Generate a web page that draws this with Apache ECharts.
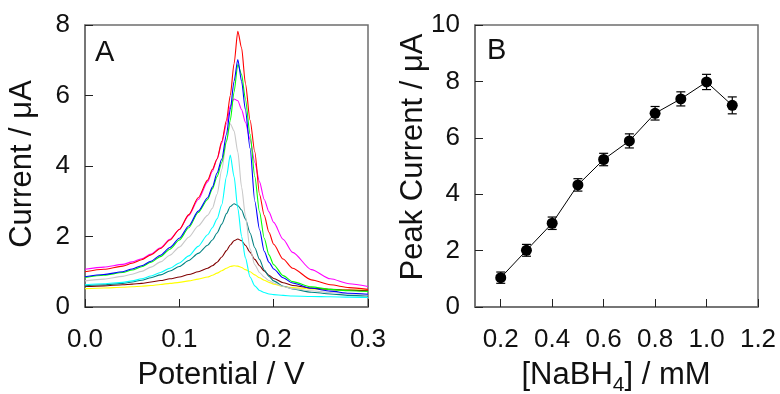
<!DOCTYPE html>
<html>
<head>
<meta charset="utf-8">
<script src="https://cdn.jsdelivr.net/npm/echarts@6/dist/echarts.min.js"></script>
<style>html,body{margin:0;padding:0;background:#fff}#c{width:780px;height:394px}</style>
</head>
<body>
<div id="c"></div>
<script>
// ---- Panel A: DPV curves ----
var potential = [0, 0.02, 0.04, 0.05, 0.06, 0.07, 0.08, 0.09, 0.10, 0.11, 0.12, 0.13, 0.135, 0.14, 0.145, 0.15, 0.154, 0.158, 0.162, 0.166, 0.17, 0.175, 0.18, 0.185, 0.19, 0.195, 0.2, 0.21, 0.22, 0.24, 0.26, 0.28, 0.3];
var curveYellow  = [0.52, 0.54, 0.56, 0.575, 0.59, 0.61, 0.64, 0.67, 0.70, 0.74, 0.79, 0.85, 0.90, 0.96, 1.03, 1.10, 1.15, 1.17, 1.16, 1.12, 1.06, 1.00, 0.91, 0.83, 0.76, 0.70, 0.65, 0.58, 0.55, 0.51, 0.49, 0.48, 0.48];
var curveBrown   = [0.58, 0.60, 0.63, 0.65, 0.67, 0.71, 0.75, 0.80, 0.85, 0.92, 1.00, 1.10, 1.17, 1.27, 1.42, 1.60, 1.76, 1.88, 1.93, 1.88, 1.75, 1.55, 1.35, 1.17, 1.02, 0.90, 0.81, 0.69, 0.61, 0.54, 0.50, 0.48, 0.46];
var curveTeal    = [0.60, 0.63, 0.67, 0.71, 0.76, 0.83, 0.91, 1.02, 1.15, 1.32, 1.52, 1.75, 1.90, 2.10, 2.35, 2.65, 2.85, 2.93, 2.88, 2.75, 2.50, 2.10, 1.68, 1.35, 1.05, 0.87, 0.74, 0.59, 0.51, 0.42, 0.37, 0.33, 0.31];
var curveCyan    = [0.63, 0.66, 0.70, 0.74, 0.80, 0.88, 0.98, 1.10, 1.25, 1.45, 1.72, 2.05, 2.25, 2.50, 2.90, 3.70, 4.31, 3.70, 2.80, 2.00, 1.40, 0.85, 0.60, 0.47, 0.41, 0.37, 0.35, 0.33, 0.31, 0.30, 0.29, 0.28, 0.27];
var curveGray    = [0.74, 0.79, 0.87, 0.93, 1.01, 1.13, 1.28, 1.47, 1.70, 1.98, 2.30, 2.60, 2.80, 3.20, 3.90, 4.70, 5.20, 5.00, 4.40, 3.40, 2.60, 1.65, 1.20, 0.98, 0.85, 0.75, 0.68, 0.58, 0.52, 0.46, 0.41, 0.37, 0.34];
var curveMagenta = [1.07, 1.13, 1.21, 1.28, 1.37, 1.50, 1.68, 1.92, 2.20, 2.60, 3.05, 3.55, 3.85, 4.20, 4.65, 5.20, 5.70, 5.90, 5.85, 5.60, 5.25, 4.75, 4.10, 3.55, 3.05, 2.70, 2.40, 1.92, 1.55, 1.06, 0.80, 0.66, 0.58];
var curveGreen   = [0.84, 0.90, 0.98, 1.05, 1.14, 1.27, 1.43, 1.64, 1.90, 2.25, 2.68, 3.05, 3.35, 3.70, 4.10, 4.70, 5.30, 6.10, 6.88, 6.60, 5.90, 4.90, 3.70, 2.70, 1.95, 1.48, 1.20, 0.89, 0.72, 0.57, 0.50, 0.46, 0.44];
var curveBlue    = [0.86, 0.92, 1.00, 1.08, 1.17, 1.30, 1.47, 1.69, 1.95, 2.30, 2.72, 3.10, 3.40, 3.80, 4.20, 4.90, 5.60, 6.40, 7.02, 6.40, 5.60, 4.50, 3.00, 2.20, 1.58, 1.27, 1.08, 0.83, 0.68, 0.53, 0.45, 0.39, 0.36];
var curveRed     = [1.00, 1.07, 1.16, 1.24, 1.34, 1.48, 1.66, 1.90, 2.20, 2.62, 3.10, 3.60, 3.90, 4.20, 4.70, 5.30, 6.00, 6.90, 7.82, 7.35, 6.35, 5.30, 4.40, 3.20, 2.60, 2.12, 1.78, 1.36, 1.10, 0.77, 0.63, 0.55, 0.50];
var potentialTicks = [0, 0.1, 0.2, 0.3];
var currentTicks = [0, 2, 4, 6, 8];

// ---- Panel B: peak current vs concentration ----
var nabh4 = [0.2, 0.3, 0.4, 0.5, 0.6, 0.7, 0.8, 0.9, 1.0, 1.1];
var peakCurrent = [1.04, 2.01, 2.97, 4.33, 5.23, 5.89, 6.87, 7.38, 7.98, 7.15];
var peakError = [0.20, 0.21, 0.22, 0.22, 0.22, 0.25, 0.24, 0.25, 0.27, 0.30];
var nabh4Ticks = [0.2, 0.4, 0.6, 0.8, 1.0, 1.2];
var peakTicks = [0, 2, 4, 6, 8, 10];

var FONT = '"Liberation Sans", Arial, Helvetica, sans-serif';
var FRAME = '#6e6e6e';
var TICK_FS = 26, TITLE_FS = 31;

function pairs(xs, ys) { return xs.map(function (x, i) { return [x, ys[i]]; }); }

var curves = [
  ['yellow', curveYellow, '#ffff00'],
  ['brown', curveBrown, '#800000'],
  ['teal', curveTeal, '#008080'],
  ['cyan', curveCyan, '#00ffff'],
  ['gray', curveGray, '#c8c8c8'],
  ['magenta', curveMagenta, '#ff00ff'],
  ['green', curveGreen, '#00ff00'],
  ['blue', curveBlue, '#0000ff'],
  ['red', curveRed, '#ff0000']
];

var series = curves.map(function (c) {
  return {
    name: c[0], type: 'line', xAxisIndex: 0, yAxisIndex: 0,
    data: pairs(potential, c[1]), showSymbol: false, symbol: 'none',
    smooth: 0.25, smoothMonotone: 'x',
    lineStyle: { color: c[2], width: 1.1 }, silent: true
  };
});

series.push({
  type: 'line', xAxisIndex: 1, yAxisIndex: 1,
  data: pairs(nabh4, peakCurrent),
  symbol: 'circle', symbolSize: 11,
  itemStyle: { color: '#000' },
  lineStyle: { color: '#000', width: 1 }, silent: true, z: 3
});
series.push({
  type: 'custom', xAxisIndex: 1, yAxisIndex: 1, silent: true, z: 2,
  data: nabh4.map(function (x, i) { return [x, peakCurrent[i], peakError[i]]; }),
  renderItem: function (params, api) {
    var x = api.value(0), y = api.value(1), e = api.value(2);
    var top = api.coord([x, y + e]), bot = api.coord([x, y - e]);
    var w = 4.5;
    var st = { stroke: '#000', lineWidth: 1.2 };
    return { type: 'group', children: [
      { type: 'line', shape: { x1: top[0], y1: top[1], x2: bot[0], y2: bot[1] }, style: st },
      { type: 'line', shape: { x1: top[0] - w, y1: top[1], x2: top[0] + w, y2: top[1] }, style: st },
      { type: 'line', shape: { x1: bot[0] - w, y1: bot[1], x2: bot[0] + w, y2: bot[1] }, style: st }
    ]};
  }
});

var tickStyle = { show: true, inside: true, length: 8, lineStyle: { color: '#222', width: 1 } };
function fmt1(v) { return v.toFixed(1); }

function axisBase(extra) {
  return Object.assign({
    type: 'value',
    axisLine: { show: true, lineStyle: { color: FRAME, width: 1.5 } },
    axisTick: tickStyle,
    splitLine: { show: false }
  }, extra);
}

var measureCtx = document.createElement('canvas').getContext('2d');
function textWidth(t, size) { measureCtx.font = size + 'px ' + FONT; return measureCtx.measureText(t).width; }
var part1 = '[NaBH', part2 = '4', part3 = '] / mM';
var w1 = textWidth(part1, TITLE_FS), w2 = textWidth(part2, 21), w3 = textWidth(part3, TITLE_FS);
var startB = 616 - (w1 + w2 + w3) / 2;

function txt(x, y, s, size, extra) {
  return Object.assign({
    type: 'text', x: x, y: y,
    style: { text: s, fill: '#111', font: size + 'px ' + FONT, textAlign: 'center', textVerticalAlign: 'middle' }
  }, extra || {});
}

var option = {
  animation: false,
  backgroundColor: '#fff',
  grid: [
    { left: 85, top: 25, width: 283, height: 282, show: true, borderColor: FRAME, borderWidth: 1.5, backgroundColor: 'transparent' },
    { left: 475, top: 25, width: 283, height: 282, show: true, borderColor: FRAME, borderWidth: 1.5, backgroundColor: 'transparent' }
  ],
  xAxis: [
    axisBase({ gridIndex: 0, min: 0, max: 0.3, interval: 0.1,
      axisLabel: { color: '#111', fontSize: TICK_FS, fontFamily: FONT, margin: 20, formatter: fmt1 } }),
    axisBase({ gridIndex: 1, min: 0.1, max: 1.2,
      axisTick: Object.assign({}, tickStyle, { customValues: nabh4Ticks }),
      axisLabel: { color: '#111', fontSize: TICK_FS, fontFamily: FONT, margin: 20, customValues: nabh4Ticks, formatter: fmt1 } })
  ],
  yAxis: [
    axisBase({ gridIndex: 0, min: 0, max: 8, interval: 2,
      axisLabel: { color: '#111', fontSize: TICK_FS, fontFamily: FONT, margin: 15 } }),
    axisBase({ gridIndex: 1, min: 0, max: 10, interval: 2,
      axisLabel: { color: '#111', fontSize: TICK_FS, fontFamily: FONT, margin: 15 } })
  ],
  graphic: [
    txt(22, 164, 'Current / μA', TITLE_FS, { rotation: Math.PI / 2 }),
    txt(413, 157, 'Peak Current / μA', TITLE_FS, { rotation: Math.PI / 2 }),
    txt(221, 375, 'Potential / V', TITLE_FS),
    { type: 'text', x: startB, y: 375, style: { text: part1, fill: '#111', font: TITLE_FS + 'px ' + FONT, textAlign: 'left', textVerticalAlign: 'middle' } },
    { type: 'text', x: startB + w1, y: 385, style: { text: part2, fill: '#111', font: '21px ' + FONT, textAlign: 'left', textVerticalAlign: 'middle' } },
    { type: 'text', x: startB + w1 + w2, y: 375, style: { text: part3, fill: '#111', font: TITLE_FS + 'px ' + FONT, textAlign: 'left', textVerticalAlign: 'middle' } },
    { type: 'text', x: 95, y: 52.5, style: { text: 'A', fill: '#111', font: '29px ' + FONT, textAlign: 'left', textVerticalAlign: 'middle' } },
    { type: 'text', x: 487, y: 51, style: { text: 'B', fill: '#111', font: '29px ' + FONT, textAlign: 'left', textVerticalAlign: 'middle' } }
  ],
  series: series
};

var chart = echarts.init(document.getElementById('c'), null, { renderer: 'canvas' });
chart.setOption(option);
</script>
</body>
</html>
